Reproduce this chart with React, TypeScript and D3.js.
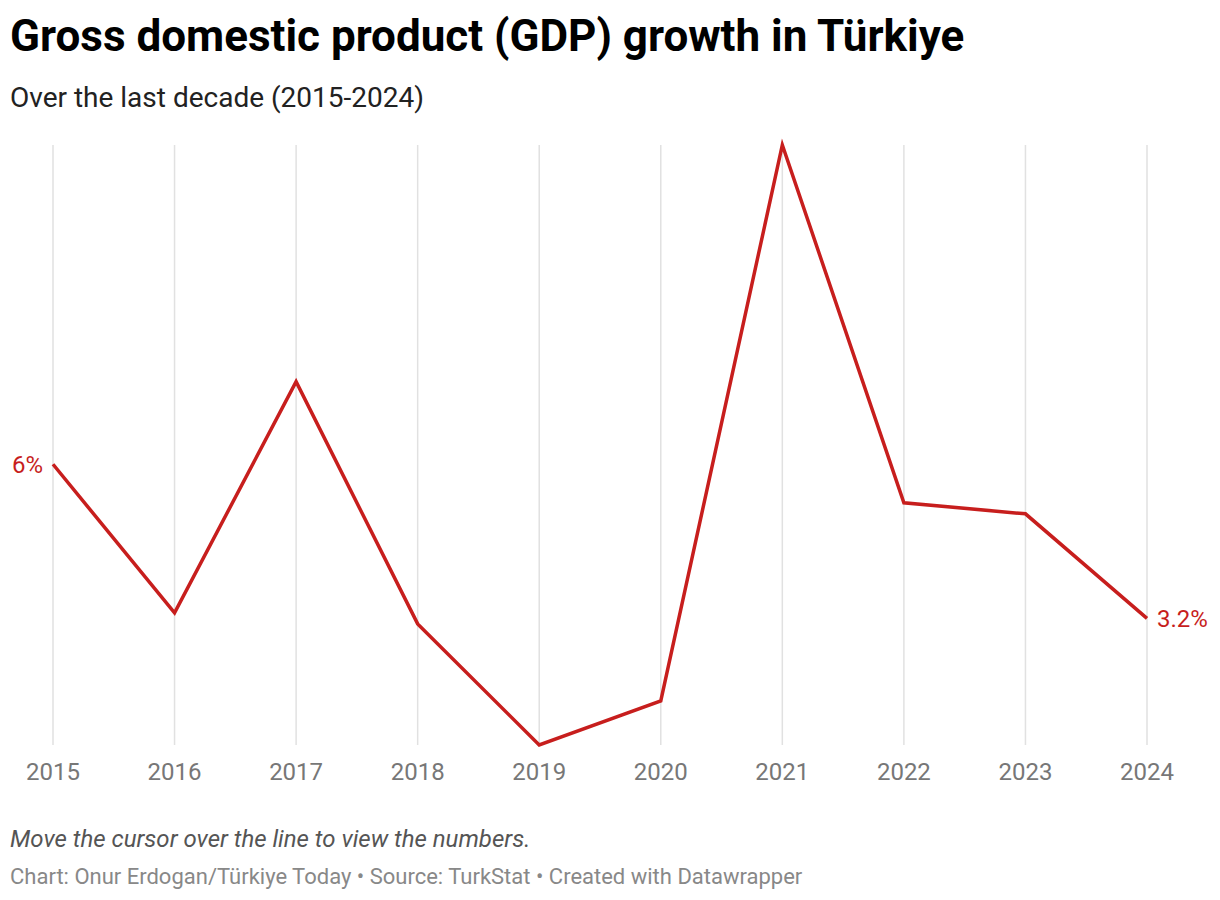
import React, { useEffect, useRef } from "react";
import * as d3 from "d3";

const years = ["2015", "2016", "2017", "2018", "2019", "2020", "2021", "2022", "2023", "2024"];
const growth = [6.0, 3.3, 7.5, 3.1, 0.9, 1.7, 11.8, 5.3, 5.1, 3.2];
const firstLabel = "6%";
const lastLabel = "3.2%";

const App = () => {
  const svgRef = useRef<SVGSVGElement>(null);

  useEffect(() => {
    document.body.style.margin = "0";
    const svg = d3.select(svgRef.current);
    svg.selectAll("*").remove();

    const width = 1220;
    const height = 900;
    const font = "Roboto, 'Noto Sans', sans-serif";
    const red = "#c71e1d";

    const x = d3.scalePoint().domain(years).range([53, 1147]);
    const y = d3
      .scaleLinear()
      .domain(d3.extent(growth) as [number, number])
      .range([745, 145]);

    svg.append("rect").attr("width", width).attr("height", height).attr("fill", "#fff");

    // Title + subtitle
    svg
      .append("text")
      .attr("x", 10)
      .attr("y", 51)
      .attr("font-family", font)
      .attr("font-weight", 700)
      .attr("font-size", 44)
      .attr("fill", "#000")
      .text("Gross domestic product (GDP) growth in Türkiye");

    svg
      .append("text")
      .attr("x", 10)
      .attr("y", 107)
      .attr("font-family", font)
      .attr("font-size", 28)
      .attr("fill", "#222")
      .text("Over the last decade (2015-2024)");

    // Vertical grid lines
    svg
      .append("g")
      .selectAll("line")
      .data(years)
      .join("line")
      .attr("x1", (d) => x(d)!)
      .attr("x2", (d) => x(d)!)
      .attr("y1", y(d3.max(growth)!))
      .attr("y2", y(d3.min(growth)!))
      .attr("stroke", "#e1e1e1")
      .attr("stroke-width", 1.5);

    // x axis labels
    svg
      .append("g")
      .selectAll("text")
      .data(years)
      .join("text")
      .attr("x", (d) => x(d)!)
      .attr("y", 780)
      .attr("text-anchor", "middle")
      .attr("font-family", font)
      .attr("font-size", 24)
      .attr("fill", "#777")
      .text((d) => d);

    // Line
    const line = d3
      .line<number>()
      .x((_, i) => x(years[i])!)
      .y((d) => y(d));

    svg
      .append("path")
      .datum(growth)
      .attr("d", line)
      .attr("fill", "none")
      .attr("stroke", red)
      .attr("stroke-width", 3.5)
      .attr("stroke-linejoin", "miter");

    // End labels
    svg
      .append("text")
      .attr("x", x(years[0])! - 10)
      .attr("y", y(growth[0]))
      .attr("dy", "0.35em")
      .attr("text-anchor", "end")
      .attr("font-family", font)
      .attr("font-size", 24)
      .attr("fill", red)
      .text(firstLabel);

    svg
      .append("text")
      .attr("x", x(years[years.length - 1])! + 10)
      .attr("y", y(growth[growth.length - 1]))
      .attr("dy", "0.35em")
      .attr("font-family", font)
      .attr("font-size", 24)
      .attr("fill", red)
      .text(lastLabel);

    // Notes
    svg
      .append("text")
      .attr("x", 10)
      .attr("y", 847)
      .attr("font-family", font)
      .attr("font-style", "italic")
      .attr("font-size", 24)
      .attr("fill", "#555")
      .text("Move the cursor over the line to view the numbers.");

    svg
      .append("text")
      .attr("x", 10)
      .attr("y", 884)
      .attr("font-family", font)
      .attr("font-size", 22)
      .attr("fill", "#888")
      .text("Chart: Onur Erdogan/Türkiye Today • Source: TurkStat • Created with Datawrapper");
  }, []);

  return <svg ref={svgRef} width={1220} height={900} style={{ display: "block" }}></svg>;
};

export default App;
